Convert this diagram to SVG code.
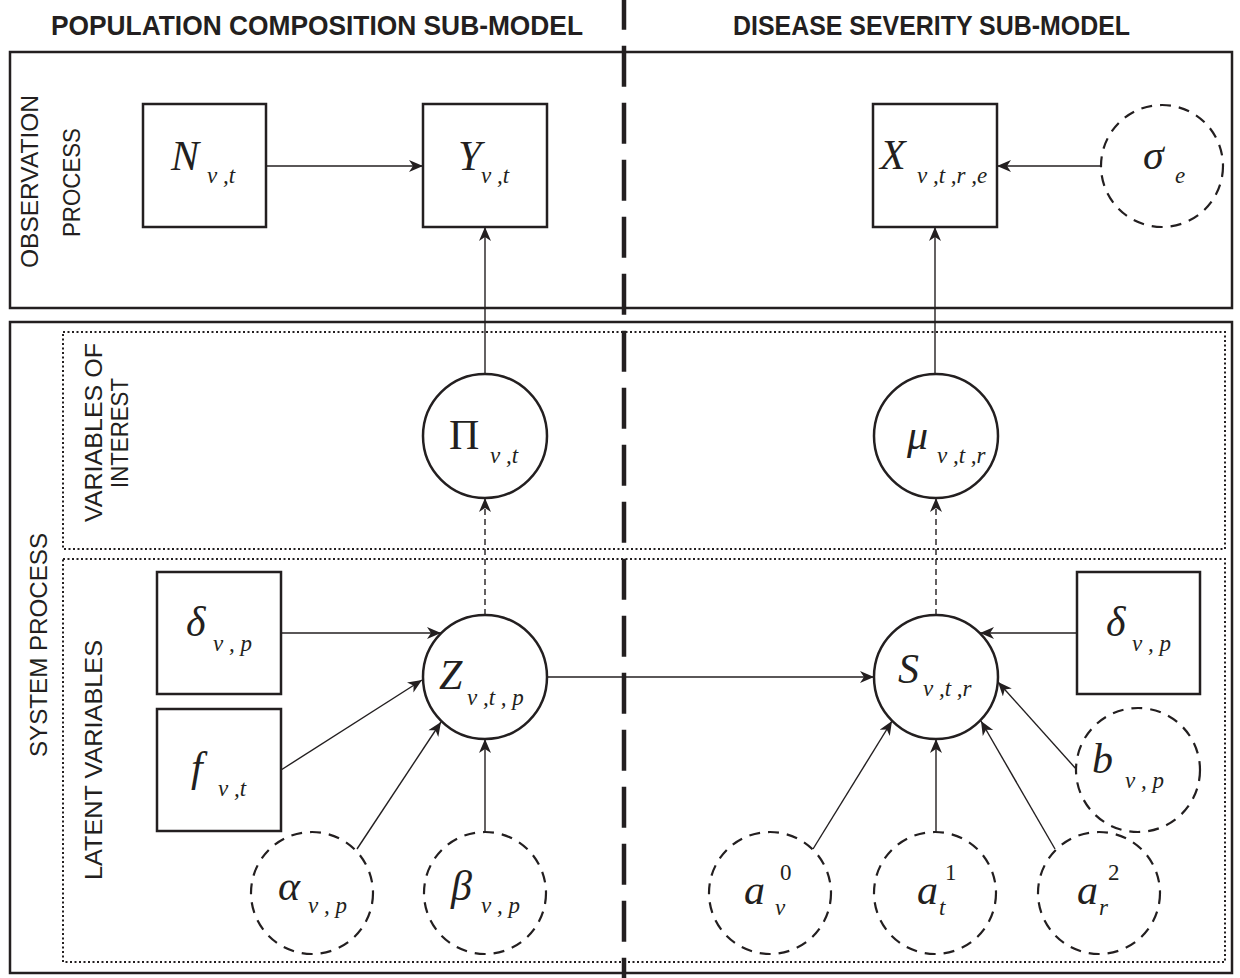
<svg xmlns="http://www.w3.org/2000/svg" width="1240" height="978" viewBox="0 0 1240 978">
<style>
.frame{fill:none;stroke:#231f20;stroke-width:2.5}
.dot{fill:none;stroke:#231f20;stroke-width:2;stroke-dasharray:2 2.5}
.node{fill:#fff;stroke:#231f20;stroke-width:2.5}
.dnode{fill:#fff;stroke:#231f20;stroke-width:2.2;stroke-dasharray:11 8}
.edge{fill:none;stroke:#231f20;stroke-width:1.4;marker-end:url(#ah)}
.dedge{fill:none;stroke:#231f20;stroke-width:1.4;stroke-dasharray:6 4;marker-end:url(#ah)}
.hdr{font-family:"Liberation Sans",Arial,sans-serif;font-weight:bold;font-size:28px;fill:#231f20}
.lbl{font-family:"Liberation Sans",Arial,sans-serif;font-size:23px;fill:#231f20}
.m{font-family:"Liberation Serif","Times New Roman",serif;font-style:italic;font-size:42px;fill:#231f20}
.mu{font-family:"Liberation Serif","Times New Roman",serif;font-size:42px;fill:#231f20}
.s{font-family:"Liberation Serif","Times New Roman",serif;font-style:italic;font-size:23px;fill:#231f20}
.su{font-family:"Liberation Serif","Times New Roman",serif;font-size:23px;fill:#231f20}
</style>
<defs>
<marker id="ah" markerUnits="userSpaceOnUse" markerWidth="16" markerHeight="14" refX="14" refY="6" orient="auto">
<path d="M0,0 L14,6 L0,12 L4,6 z" fill="#231f20"/>
</marker>
</defs>
<rect width="1240" height="978" fill="#fff"/>
<g id="frames">
<rect class="frame" x="10" y="52" width="1222" height="256"/>
<rect class="frame" x="10" y="322" width="1222" height="651"/>
<rect class="dot" x="63" y="332" width="1162" height="217"/>
<rect class="dot" x="63" y="559" width="1162" height="403"/>
<line x1="624" y1="0" x2="624" y2="978" stroke="#231f20" stroke-width="4.5" stroke-dasharray="41 16" stroke-dashoffset="11.3"/>
</g>
<g id="labels">
<text class="hdr" x="51" y="35" textLength="532" lengthAdjust="spacingAndGlyphs">POPULATION COMPOSITION SUB-MODEL</text>
<text class="hdr" x="733" y="35" textLength="397" lengthAdjust="spacingAndGlyphs">DISEASE SEVERITY SUB-MODEL</text>
<text class="lbl" transform="translate(38,268) rotate(-90)" textLength="173" lengthAdjust="spacingAndGlyphs">OBSERVATION</text>
<text class="lbl" transform="translate(80,237) rotate(-90)" textLength="109" lengthAdjust="spacingAndGlyphs">PROCESS</text>
<text class="lbl" transform="translate(47,757) rotate(-90)" textLength="224" lengthAdjust="spacingAndGlyphs">SYSTEM PROCESS</text>
<text class="lbl" transform="translate(102,522) rotate(-90)" textLength="179" lengthAdjust="spacingAndGlyphs">VARIABLES OF</text>
<text class="lbl" transform="translate(128,488) rotate(-90)" textLength="110" lengthAdjust="spacingAndGlyphs">INTEREST</text>
<text class="lbl" transform="translate(102,880) rotate(-90)" textLength="240" lengthAdjust="spacingAndGlyphs">LATENT VARIABLES</text>
</g>
<g id="connectors">
<line class="edge" x1="266" y1="166" x2="423" y2="166"/>
<line class="edge" x1="1101" y1="166" x2="997" y2="166"/>
<line class="edge" x1="485" y1="374" x2="485" y2="227"/>
<line class="edge" x1="935" y1="374" x2="935" y2="227"/>
<line class="dedge" x1="485" y1="615" x2="485" y2="498"/>
<line class="dedge" x1="936" y1="615" x2="936" y2="498"/>
<line class="edge" x1="281" y1="633" x2="441" y2="633"/>
<line class="edge" x1="281" y1="770" x2="422" y2="680"/>
<line class="edge" x1="357" y1="849" x2="441" y2="722"/>
<line class="edge" x1="485" y1="832" x2="485" y2="739"/>
<line class="edge" x1="547" y1="677" x2="874" y2="677"/>
<line class="edge" x1="1077" y1="633" x2="980" y2="633"/>
<line class="edge" x1="1077" y1="770" x2="998" y2="682"/>
<line class="edge" x1="813" y1="849" x2="892" y2="721"/>
<line class="edge" x1="936" y1="832" x2="936" y2="739"/>
<line class="edge" x1="1055" y1="849" x2="981" y2="721"/>
</g>
<g id="N"><rect class="node" x="143" y="104" width="123" height="123"/><text class="m" x="171" y="170">N</text><text class="s" x="207" y="183">v ,t</text></g>
<g id="Y"><rect class="node" x="423" y="104" width="124" height="123"/><text class="m" x="458" y="170">Y</text><text class="s" x="481" y="183">v ,t</text></g>
<g id="X"><rect class="node" x="873" y="104" width="124" height="123"/><text class="m" x="880" y="169">X</text><text class="s" x="917" y="183">v ,t ,r ,e</text></g>
<g id="sigma"><circle class="dnode" cx="1162" cy="166" r="61"/><text class="m" x="1143" y="169">σ</text><text class="s" x="1175" y="183">e</text></g>
<g id="Pi"><circle class="node" cx="485" cy="436" r="62"/><text class="mu" x="449" y="449">Π</text><text class="s" x="490" y="463">v ,t</text></g>
<g id="mu"><circle class="node" cx="936" cy="436" r="62"/><text class="m" x="907" y="449">μ</text><text class="s" x="937" y="463">v ,t ,r</text></g>
<g id="deltaL"><rect class="node" x="157" y="572" width="124" height="122"/><text class="m" x="186" y="636">δ</text><text class="s" x="213" y="651">v , p</text></g>
<g id="f"><rect class="node" x="157" y="709" width="124" height="122"/><text class="m" x="191" y="781">f</text><text class="s" x="218" y="796">v ,t</text></g>
<g id="Z"><circle class="node" cx="485" cy="677" r="62"/><text class="m" x="439" y="689">Z</text><text class="s" x="467" y="705">v ,t , p</text></g>
<g id="alpha"><circle class="dnode" cx="312" cy="893" r="61"/><text class="m" x="278" y="900">α</text><text class="s" x="308" y="913">v , p</text></g>
<g id="beta"><circle class="dnode" cx="485" cy="893" r="61"/><text class="m" x="451" y="900">β</text><text class="s" x="481" y="913">v , p</text></g>
<g id="S"><circle class="node" cx="936" cy="677" r="62"/><text class="m" x="898" y="683">S</text><text class="s" x="923" y="696">v ,t ,r</text></g>
<g id="deltaR"><rect class="node" x="1077" y="572" width="123" height="122"/><text class="m" x="1106" y="636">δ</text><text class="s" x="1132" y="651">v , p</text></g>
<g id="b"><circle class="dnode" cx="1138" cy="770" r="62"/><text class="m" x="1092" y="773">b</text><text class="s" x="1125" y="788">v , p</text></g>
<g id="a0"><circle class="dnode" cx="770" cy="893" r="61"/><text class="m" x="744" y="904">a</text><text class="su" x="780" y="880">0</text><text class="s" x="775" y="915">v</text></g>
<g id="a1"><circle class="dnode" cx="935" cy="893" r="61"/><text class="m" x="917" y="904">a</text><text class="su" x="945" y="880">1</text><text class="s" x="939" y="915">t</text></g>
<g id="a2"><circle class="dnode" cx="1099" cy="893" r="61"/><text class="m" x="1077" y="904">a</text><text class="su" x="1108" y="880">2</text><text class="s" x="1099" y="915">r</text></g>
</svg>
